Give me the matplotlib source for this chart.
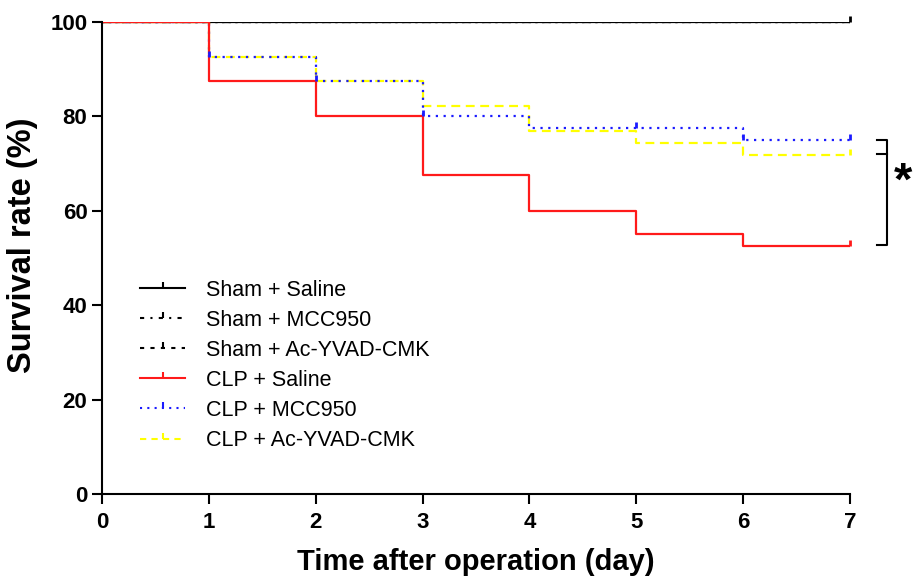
from matplotlib import pyplot as plt
from matplotlib.lines import Line2D

days = [0, 1, 2, 3, 4, 5, 6, 7]
sham_saline = [100, 100, 100, 100, 100, 100, 100, 100]
sham_mcc950 = [100, 100, 100, 100, 100, 100, 100, 100]
sham_acyvad = [100, 100, 100, 100, 100, 100, 100, 100]
clp_saline = [100, 87.5, 80, 67.5, 60, 55, 52.5, 52.5]
clp_mcc950 = [100, 92.5, 87.5, 80, 77.5, 77.5, 75, 75]
clp_acyvad = [100, 92.5, 87.5, 82.2, 77, 74.4, 71.8, 71.8]

# censored observations (day, value)
cens_sham = ([7], [100])
cens_red = ([7], [52.5])
cens_blue = ([1, 2, 3, 5, 6, 7], [92.5, 87.5, 80, 77.5, 75, 75])
cens_yellow = ([7], [71.8])

labels = ['Sham + Saline', 'Sham + MCC950', 'Sham + Ac-YVAD-CMK',
          'CLP + Saline', 'CLP + MCC950', 'CLP + Ac-YVAD-CMK']

# bracket for significance
bracket_top = 75
bracket_mid = 72.1
bracket_bot = 52.7

plt.rcParams['font.family'] = ['Liberation Sans', 'DejaVu Sans']

tick_up = [(0, 0), (0, 1)]

fig = plt.figure(figsize=[9.14, 5.77], dpi=100)
ax = fig.add_axes([0.1116, 0.1438, 0.8184, 0.8181])

styles = [
    (sham_mcc950, 'black', (0, (4, 2, 1, 2))),
    (sham_acyvad, 'black', (0, (1, 2))),
    (sham_saline, 'black', '-'),
    (clp_acyvad, '#ffff00', (0, (4, 2.5))),
    (clp_mcc950, '#1a1aff', (0, (1, 2.5))),
    (clp_saline, '#ff1a1a', '-'),
]
for vals, col, ls in styles:
    ax.plot(days, vals, drawstyle='steps-post', color=col, linestyle=ls,
            linewidth=1.6)

for (xs, ys), col in [(cens_sham, 'black'), (cens_yellow, '#ffff00'),
                      (cens_blue, '#1a1aff'), (cens_red, '#ff1a1a')]:
    ax.plot(xs, ys, linestyle='none', marker=tick_up, markersize=9,
            markeredgewidth=2, color=col, clip_on=False)

# legend
handles = [
    Line2D([], [], color='black', linestyle='-', linewidth=1.5),
    Line2D([], [], color='black', linestyle=(0, (2, 3, 1, 3)), linewidth=1.5),
    Line2D([], [], color='black', linestyle=(0, (2, 3)), linewidth=1.5),
    Line2D([], [], color='#ff1a1a', linestyle='-', linewidth=1.5),
    Line2D([], [], color='#1a1aff', linestyle=(0, (1, 2.5)), linewidth=1.5),
    Line2D([], [], color='#ffff00', linestyle=(0, (3, 2.5)), linewidth=1.5),
]
cols = ['black', 'black', 'black', '#ff1a1a', '#1a1aff', '#ffff00']
for h, c in zip(handles, cols):
    h.set_marker(tick_up)
    h.set_markersize(8)
    h.set_markeredgewidth(1.5)
    h.set_markeredgecolor(c)
ax.legend(handles, labels, loc='lower left', bbox_to_anchor=(0.025, 0.05),
          frameon=False, fontsize=15.5, handlelength=2.1, handletextpad=0.95,
          labelspacing=0.42, numpoints=1)

# significance bracket
bx = 7.35
bl = 7.25
ax.plot([bl, bx, bx, bl], [bracket_top, bracket_top, bracket_bot, bracket_bot],
        color='black', linewidth=1.5, clip_on=False)
ax.plot([bl, bx], [bracket_mid, bracket_mid], color='black', linewidth=1.5,
        clip_on=False)
ax.text(7.5, 66, '*', fontsize=34, fontweight='bold', ha='center',
        va='center', clip_on=False)

ax.set_xlim(0, 7)
ax.set_ylim(0, 100)
ax.set_xticks(range(0, 8))
ax.set_yticks(range(0, 101, 20))
ax.spines['top'].set_visible(False)
ax.spines['right'].set_visible(False)
ax.spines['left'].set_linewidth(1.5)
ax.spines['bottom'].set_linewidth(1.5)
ax.tick_params(width=1.5, length=7, labelsize=16)
ax.tick_params(axis='x', pad=6)
ax.tick_params(axis='y', pad=3.5)
for lab in ax.get_xticklabels() + ax.get_yticklabels():
    lab.set_fontweight('bold')
ax.set_xlabel('Time after operation (day)', fontsize=21, fontweight='bold',
              labelpad=11)
ax.set_ylabel('Survival rate (%)', fontsize=23.5, fontweight='bold')
ax.yaxis.set_label_coords(-0.086, 0.528)

plt.savefig('out.png', dpi=100)
